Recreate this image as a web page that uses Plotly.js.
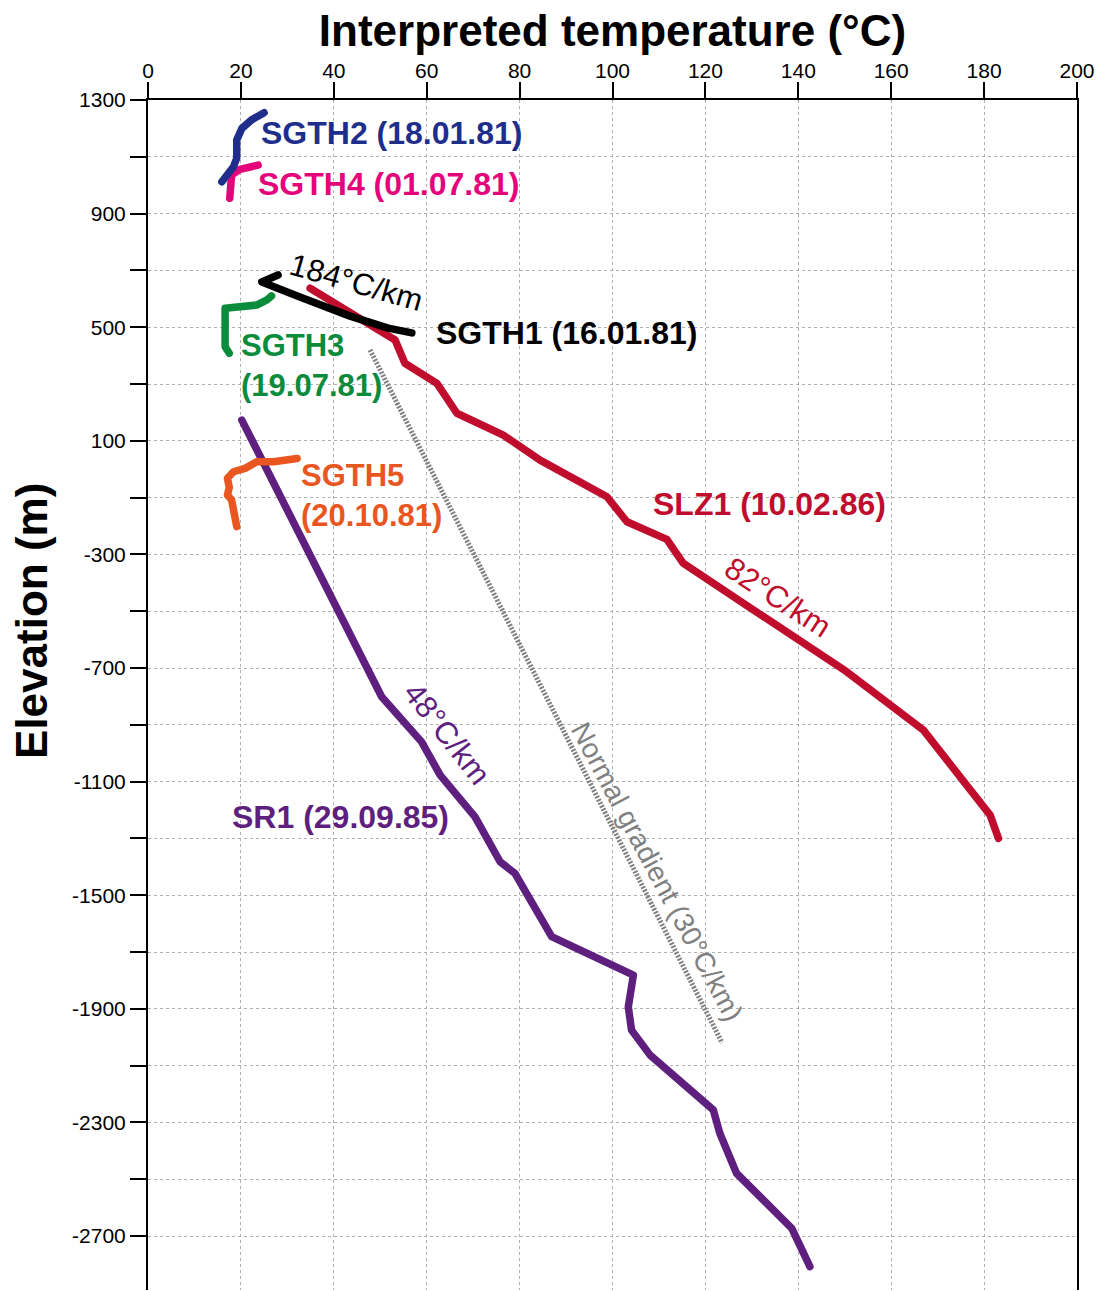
<!DOCTYPE html>
<html>
<head>
<meta charset="utf-8">
<script src="https://cdn.plot.ly/plotly-3.0.1.min.js"></script>
<style>
html,body{margin:0;padding:0;background:#fff;}
#chart{width:1097px;height:1291px;}
.scatterlayer .trace:nth-child(n+2) .js-line{stroke-linecap:round !important;stroke-linejoin:round !important;}
</style>
</head>
<body>
<div id="chart"></div>
<script>
// Temperature (°C) and elevation (m) per well
const sgth2T = [15.9, 18.4, 19.1, 19.1, 20.2, 22.3, 25.0];
const sgth2E = [1012, 1065, 1095, 1159, 1200, 1230, 1255];

const sgth4T = [17.6, 17.8, 18.0, 19.8, 21.6, 23.7];
const sgth4E = [954, 1007, 1036, 1056, 1063, 1071];

const sgth1T = [28.0, 24.5, 32.7, 43.5, 51.7, 56.8];
const sgth1E = [684, 659, 606, 539, 497, 480];

const sgth3T = [17.5, 16.6, 16.6, 19.8, 23.4, 25.6, 26.6];
const sgth3E = [408, 431, 567, 572, 578, 596, 610];

const sgth5T = [19.1, 18.6, 18.0, 17.1, 17.5, 17.1, 18.4, 20.9, 23.4, 27.0, 29.9, 32.1];
const sgth5E = [-202, -161, -108, -91, -64, -32, -9, 3, 26, 26, 32, 38];

const slz1T = [34.9, 43.9, 51.4, 53.2, 55.3, 60.0, 62.2, 66.5, 76.5, 84.4, 94.5, 98.8, 103.1, 111.7, 115.2, 150.4, 166.9, 181.3, 183.1];
const slz1E = [637, 549, 479, 455, 373, 320, 302, 197, 120, 32, -56, -97, -185, -247, -331, -713, -918, -1218, -1300];

const sr1T = [20.2, 50.3, 58.9, 62.9, 70.4, 75.8, 79.0, 86.9, 104.5, 103.4, 104.1, 108.1, 121.7, 123.1, 126.7, 138.6, 142.5];
const sr1E = [173, -801, -960, -1077, -1224, -1382, -1423, -1646, -1781, -1893, -1975, -2063, -2256, -2338, -2479, -2673, -2808];

const normalT = [47.8, 123.6];
const normalE = [420, -2020];

const xTickVals = [0, 20, 40, 60, 80, 100, 120, 140, 160, 180, 200];
const yTickVals = [1300, 1100, 900, 700, 500, 300, 100, -100, -300, -500, -700, -900, -1100, -1300, -1500, -1700, -1900, -2100, -2300, -2500, -2700];
const yTickText = ["1300", "", "900", "", "500", "", "100", "", "-300", "", "-700", "", "-1100", "", "-1500", "", "-1900", "", "-2300", "", "-2700"];

const FONT = "Liberation Sans, Arial, sans-serif";

function line(x, y, color, name, extra) {
  return Object.assign({
    x: x, y: y, type: "scatter", mode: "lines", name: name,
    line: {color: color, width: 7.5}, hoverinfo: "skip"
  }, extra || {});
}

const traces = [
  line(normalT, normalE, "#808080", "Normal gradient", {line: {color: "#808080", width: 5, dash: "2px,1.5px"}}),
  line(sr1T, sr1E, "#5f1f7e", "SR1"),
  line(slz1T, slz1E, "#c00d2d", "SLZ1"),
  line(sgth5T, sgth5E, "#e9561f", "SGTH5"),
  line(sgth3T, sgth3E, "#0a8c3c", "SGTH3"),
  line(sgth1T, sgth1E, "#000000", "SGTH1"),
  line(sgth4T, sgth4E, "#e4037b", "SGTH4"),
  line(sgth2T, sgth2E, "#1f2e8a", "SGTH2")
];

function lab(text, x, y, color, opts) {
  return Object.assign({
    text: text, x: x, y: y, xref: "x", yref: "y", showarrow: false,
    xanchor: "left", yanchor: "middle", align: "left",
    font: {family: FONT, size: 32, color: color}
  }, opts || {});
}

const annotations = [
  lab("<b>SGTH2 (18.01.81)</b>", 23.9, 1184, "#1f2e8a"),
  lab("<b>SGTH4 (01.07.81)</b>", 23.3, 1004, "#e4037b"),
  lab("<b>SGTH1 (16.01.81)</b>", 61.6, 480, "#000000"),
  lab("<b>SGTH3<br>(19.07.81)</b>", 19.6, 364, "#0a8c3c", {font: {family: FONT, size: 31, color: "#0a8c3c"}}),
  lab("<b>SGTH5<br>(20.10.81)</b>", 32.5, -91, "#e9561f", {font: {family: FONT, size: 31, color: "#e9561f"}}),
  lab("<b>SLZ1 (10.02.86)</b>", 108.3, -122, "#c00d2d"),
  lab("<b>SR1 (29.09.85)</b>", 17.7, -1225, "#5f1f7e"),
  lab("184°C/km", 44.8, 656, "#000000", {xanchor: "center", textangle: 16, font: {family: FONT, size: 31, color: "#000000"}}),
  lab("82°C/km", 135.6, -453, "#c00d2d", {xanchor: "center", textangle: 33, font: {family: FONT, size: 31, color: "#c00d2d"}}),
  lab("48°C/km", 64.4, -929, "#5f1f7e", {xanchor: "center", textangle: 52, font: {family: FONT, size: 31, color: "#5f1f7e"}}),
  lab("Normal gradient (30°C/km)", 109.6, -1415, "#808080", {xanchor: "center", textangle: 62, font: {family: FONT, size: 28, color: "#808080"}}),
  {text: "<b>Elevation (m)</b>", xref: "paper", yref: "paper", x: -0.1249, y: 0.5622,
   showarrow: false, textangle: -90, xanchor: "center", yanchor: "middle",
   font: {family: FONT, size: 44, color: "#000000"}}
];

const layout = {
  width: 1097, height: 1291,
  margin: {l: 148, r: 20, t: 100, b: 1, pad: 0},
  paper_bgcolor: "#ffffff", plot_bgcolor: "#ffffff",
  showlegend: false,
  title: {text: "<b>Interpreted temperature (°C)</b>", x: 0.5, xref: "paper", y: 1 - 31 / 1291, yref: "container",
          xanchor: "center", yanchor: "middle", font: {family: FONT, size: 44, color: "#000000"}},
  xaxis: {
    side: "top", range: [0, 200], tickvals: xTickVals, ticks: "outside", ticklen: 16, tickwidth: 2, tickcolor: "#000",
    showline: true, linecolor: "#000", linewidth: 2, mirror: false, zeroline: false,
    showgrid: true, gridcolor: "#b0b0b0", gridwidth: 1, griddash: "dot",
    tickfont: {family: FONT, size: 21, color: "#000"}, ticklabelstandoff: -4
  },
  yaxis: {
    range: [-2890, 1300], tickvals: yTickVals, ticktext: yTickText, ticks: "outside", ticklen: 16, tickwidth: 2, tickcolor: "#000",
    showline: true, linecolor: "#000", linewidth: 2, mirror: true, zeroline: false,
    showgrid: true, gridcolor: "#b0b0b0", gridwidth: 1, griddash: "dot",
    tickfont: {family: FONT, size: 21, color: "#000"}
  },
  annotations: annotations
};

Plotly.newPlot("chart", traces, layout, {staticPlot: true, displayModeBar: false});
</script>
</body>
</html>
